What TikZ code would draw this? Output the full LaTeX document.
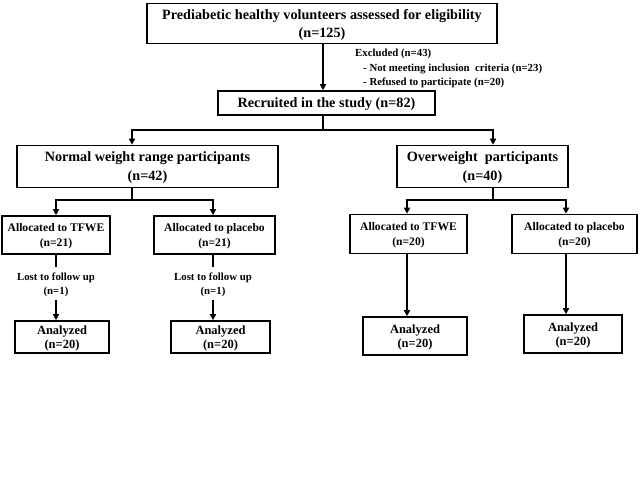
\documentclass[tikz,border=0pt]{standalone}
\usepackage{fontspec}
\setmainfont{Liberation Serif}
\usetikzlibrary{arrows.meta}
\begin{document}
\begin{tikzpicture}[x=1pt,y=-1pt,
  box/.style={draw,line width=1.6pt,align=center,inner sep=0pt,text depth=-1pt,font=\bfseries},
  big/.style={box,font=\fontsize{14.2}{18.5}\selectfont\bfseries},
  mid/.style={box,font=\fontsize{14.2}{19}\selectfont\bfseries},
  sml/.style={box,font=\fontsize{11.6}{15}\selectfont\bfseries},
  ana/.style={box,font=\fontsize{12.5}{14.5}\selectfont\bfseries},
  note/.style={align=center,inner sep=0pt,font=\fontsize{10.8}{14}\selectfont\bfseries},
  conn/.style={line width=2pt},
  arr/.style={conn,-{Triangle[length=6pt,width=6pt]}}]
\useasboundingbox (0,0) rectangle (640,480);
\node[big,minimum width=350pt,minimum height=40pt] (top) at (322,23.5) {Prediabetic healthy volunteers assessed for eligibility\\(n=125)};
\node[mid,minimum width=217pt,minimum height=24pt] (rec) at (326.5,103) {Recruited in the study (n=82)};
\node[anchor=north west,align=left,inner sep=0pt,font=\fontsize{10.8}{14.5}\selectfont\bfseries] (exc) at (355,49) {Excluded (n=43)\\\hspace*{8pt}- Not meeting inclusion \ criteria (n=23)\\\hspace*{8pt}- Refused to participate (n=20)};
\node[mid,minimum width=261pt,minimum height=42pt] (norm) at (147.5,166.5) {Normal weight range participants\\(n=42)};
\node[mid,minimum width=171pt,minimum height=42pt] (over) at (482.5,166.5) {Overweight \ participants\\(n=40)};
\node[sml,minimum width=108pt,minimum height=38pt] (a1) at (56,235) {Allocated to TFWE\\(n=21)};
\node[sml,minimum width=121pt,minimum height=38pt] (a2) at (214.5,235) {Allocated to placebo\\(n=21)};
\node[sml,minimum width=117pt,minimum height=39pt] (a3) at (408.5,234) {Allocated to TFWE\\(n=20)};
\node[sml,minimum width=125pt,minimum height=39pt] (a4) at (574.5,234) {Allocated to placebo\\(n=20)};
\node[note] (l1) at (56,285) {Lost to follow up\\(n=1)};
\node[note] (l2) at (213,285) {Lost to follow up\\(n=1)};
\node[ana,minimum width=94pt,minimum height=32pt] (n1) at (62,337) {Analyzed\\(n=20)};
\node[ana,minimum width=99pt,minimum height=32pt] (n2) at (220.5,337) {Analyzed\\(n=20)};
\node[ana,minimum width=104pt,minimum height=38pt] (n3) at (415,336) {Analyzed\\(n=20)};
\node[ana,minimum width=98pt,minimum height=38pt] (n4) at (573,334) {Analyzed\\(n=20)};
\coordinate (j0) at (323,130);
\coordinate (jl) at (132,130);
\coordinate (jr) at (493,130);
\coordinate (nb) at (132,200);
\coordinate (ob) at (493,200);
\coordinate (x3) at (407,200);
\coordinate (x4) at (566,200);
\coordinate (s1) at (0,267);
\coordinate (s2) at (0,300);
\draw[arr] (top.south -| j0) -- (rec.north -| j0);
\draw[conn] (rec.south -| j0) -- (j0);
\draw[conn,line cap=rect] (jl) -- (jr);
\draw[arr] (jl) -- (jl |- norm.north);
\draw[arr] (jr) -- (jr |- over.north);
\draw[conn] (norm.south -| nb) -- (nb);
\draw[conn,line cap=rect] (nb -| l1) -- (nb -| l2);
\draw[arr] (nb -| l1) -- (a1.north -| l1);
\draw[arr] (nb -| l2) -- (a2.north -| l2);
\draw[conn] (over.south -| ob) -- (ob);
\draw[conn,line cap=rect] (x3) -- (x4);
\draw[arr] (x3) -- (a3.north -| x3);
\draw[arr] (x4) -- (a4.north -| x4);
\draw[conn] (a1.south -| l1) -- (s1 -| l1);
\draw[arr] (s2 -| l1) -- (n1.north -| l1);
\draw[conn] (a2.south -| l2) -- (s1 -| l2);
\draw[arr] (s2 -| l2) -- (n2.north -| l2);
\draw[arr] (a3.south -| x3) -- (n3.north -| x3);
\draw[arr] (a4.south -| x4) -- (n4.north -| x4);
\end{tikzpicture}
\end{document}
